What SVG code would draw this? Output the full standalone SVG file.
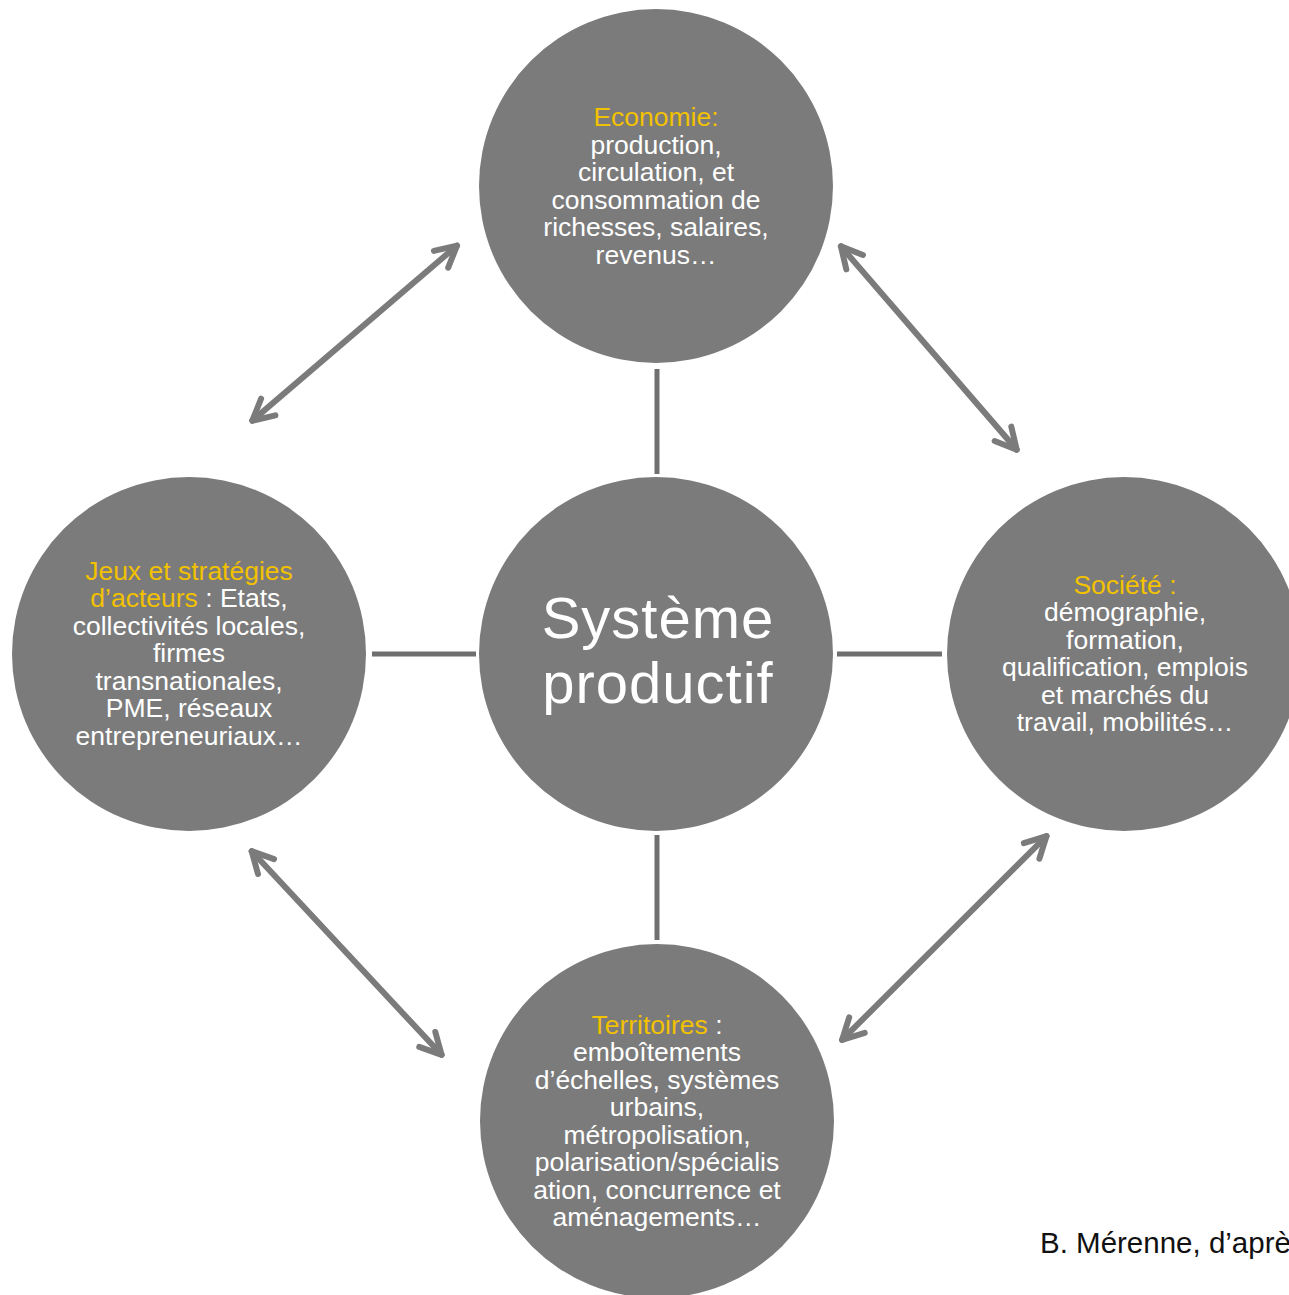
<svg xmlns="http://www.w3.org/2000/svg" width="1289" height="1295" viewBox="0 0 1289 1295">
<style>
.node{fill:#7b7b7b}
.t{font-family:"Liberation Sans",Arial,sans-serif;font-size:26.5px;fill:#ffffff;text-anchor:middle}
.y{fill:#f2c100}
.big{font-family:"Liberation Sans",Arial,sans-serif;font-size:58px;letter-spacing:1px;fill:#ffffff;text-anchor:middle}
.link{stroke:#6f6f6f;stroke-width:5;fill:none}
.arrow{stroke:#7b7b7b;stroke-width:6;fill:none;stroke-linecap:round;marker-start:url(#chev);marker-end:url(#chev)}
.foot{font-family:"Liberation Sans",Arial,sans-serif;font-size:29.5px;fill:#111111}
</style>
<defs>
<marker id="chev" viewBox="-30 -20 40 40" refX="0" refY="0" markerWidth="40" markerHeight="40" markerUnits="userSpaceOnUse" orient="auto-start-reverse">
<path d="M -21 -11 L 0 0 L -21 11" fill="none" stroke="#7b7b7b" stroke-width="6" stroke-linecap="round" stroke-linejoin="round"/>
</marker>
</defs>
<rect width="1289" height="1295" fill="#ffffff"/>
<g id="connectors">
<line class="link" x1="657" y1="369" x2="657" y2="474"/>
<line class="link" x1="657" y1="835" x2="657" y2="940"/>
<line class="link" x1="372" y1="654" x2="476" y2="654"/>
<line class="link" x1="837" y1="654" x2="942" y2="654"/>
<line class="arrow" x1="252.3" y1="420.7" x2="457" y2="245.6"/>
<line class="arrow" x1="840.9" y1="246.3" x2="1016.7" y2="449.7"/>
<line class="arrow" x1="251.7" y1="851.2" x2="441.6" y2="1054.8"/>
<line class="arrow" x1="1046.5" y1="836.1" x2="842.1" y2="1039.9"/>
</g>
<g id="economie">
<circle class="node" cx="656" cy="186" r="177"/>
<text class="t" x="656" y="126"><tspan class="y">Economie:</tspan></text>
<text class="t" x="656" y="153.6">production,</text>
<text class="t" x="656" y="181.2">circulation, et</text>
<text class="t" x="656" y="208.8">consommation de</text>
<text class="t" x="656" y="236.4">richesses, salaires,</text>
<text class="t" x="656" y="264">revenus…</text>
</g>
<g id="acteurs">
<circle class="node" cx="189" cy="654" r="177"/>
<text class="t" x="189" y="579.5"><tspan class="y">Jeux et stratégies</tspan></text>
<text class="t" x="189" y="607"><tspan class="y">d’acteurs</tspan> : Etats,</text>
<text class="t" x="189" y="634.5">collectivités locales,</text>
<text class="t" x="189" y="662">firmes</text>
<text class="t" x="189" y="689.5">transnationales,</text>
<text class="t" x="189" y="717">PME, réseaux</text>
<text class="t" x="189" y="744.5">entrepreneuriaux…</text>
</g>
<g id="systeme">
<circle class="node" cx="656" cy="654" r="177"/>
<text class="big" x="658" y="638">Système</text>
<text class="big" x="658" y="703">productif</text>
</g>
<g id="societe">
<circle class="node" cx="1124" cy="654" r="177"/>
<text class="t" x="1125" y="593.5"><tspan class="y">Société :</tspan></text>
<text class="t" x="1125" y="621">démographie,</text>
<text class="t" x="1125" y="648.5">formation,</text>
<text class="t" x="1125" y="676">qualification, emplois</text>
<text class="t" x="1125" y="703.5">et marchés du</text>
<text class="t" x="1125" y="731">travail, mobilités…</text>
</g>
<g id="territoires">
<circle class="node" cx="657" cy="1121" r="177"/>
<text class="t" x="657" y="1033.5"><tspan class="y">Territoires</tspan> :</text>
<text class="t" x="657" y="1061">emboîtements</text>
<text class="t" x="657" y="1088.5">d’échelles, systèmes</text>
<text class="t" x="657" y="1116">urbains,</text>
<text class="t" x="657" y="1143.5">métropolisation,</text>
<text class="t" x="657" y="1171">polarisation/spécialis</text>
<text class="t" x="657" y="1198.5">ation, concurrence et</text>
<text class="t" x="657" y="1226">aménagements…</text>
</g>
<text class="foot" x="1040" y="1253">B. Mérenne, d’aprè</text>
</svg>
